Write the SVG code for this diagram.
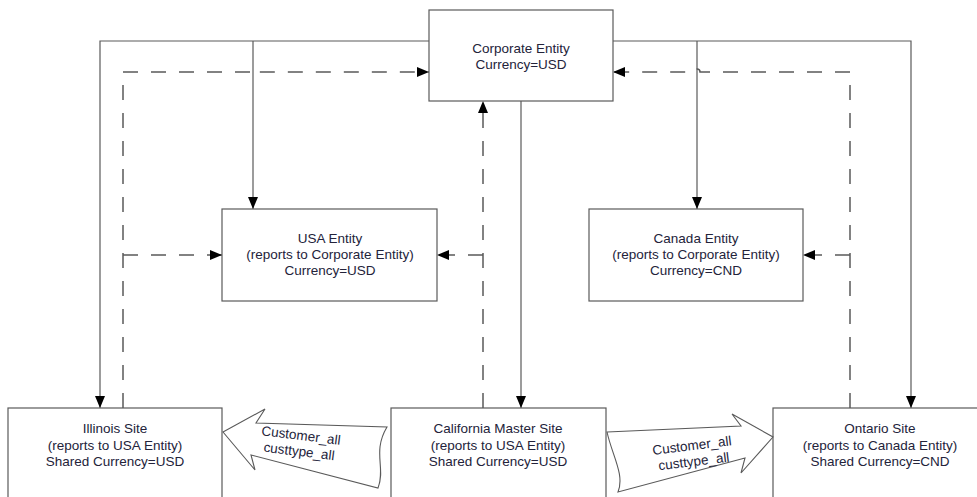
<svg xmlns="http://www.w3.org/2000/svg" width="977" height="497" viewBox="0 0 977 497">
<style>
  .box{fill:#fff;stroke:#5a5a5a;stroke-width:1.2}
  .t{font-family:"Liberation Sans",Arial,sans-serif;font-size:13.5px;fill:#23233a;text-anchor:middle}
  .s{fill:none;stroke:#5a5a5a;stroke-width:1.2}
  .d{fill:none;stroke:#5a5a5a;stroke-width:1.5;stroke-dasharray:15 13}
  .blk{fill:#fff;stroke:#5a5a5a;stroke-width:1.1;stroke-linejoin:miter}
</style>
<defs>
  <marker id="ah" viewBox="0 0 12 10" refX="12" refY="5" markerWidth="12" markerHeight="10" markerUnits="userSpaceOnUse" orient="auto">
    <path d="M0,0 L12,5 L0,10 z" fill="#000"/>
  </marker>
</defs>
<rect width="977" height="497" fill="#fff"/>
<g id="connectors">
  <path class="s" d="M429,41 H100 V408" marker-end="url(#ah)"/>
  <path class="s" d="M253,41 V209" marker-end="url(#ah)"/>
  <path class="s" d="M613,41 H911 V408" marker-end="url(#ah)"/>
  <path class="s" d="M697,41 V209" marker-end="url(#ah)"/>
  <path class="s" d="M521,101 V408" marker-end="url(#ah)"/>
  <path class="d" d="M123,408 V72 H250 A3,3 0 0 1 256,72 H429" marker-end="url(#ah)"/>
  <path class="d" d="M123,255 H222" marker-end="url(#ah)"/>
  <path class="d" d="M483,408 V101" marker-end="url(#ah)"/>
  <path class="d" d="M483,255 H437" marker-end="url(#ah)"/>
  <path class="d" d="M850,408 V72 H700 A3,3 0 0 0 694,72 H613" marker-end="url(#ah)"/>
  <path class="d" d="M850,255 H803" marker-end="url(#ah)"/>
</g>
<g id="corporate">
  <rect class="box" x="429" y="10" width="184" height="91"/>
  <text class="t" x="521" y="53">Corporate Entity</text>
  <text class="t" x="521" y="69">Currency=USD</text>
</g>
<g id="usa">
  <rect class="box" x="222" y="209" width="215" height="92"/>
  <text class="t" x="330" y="243">USA Entity</text>
  <text class="t" x="330" y="259">(reports to Corporate Entity)</text>
  <text class="t" x="330" y="275">Currency=USD</text>
</g>
<g id="canada">
  <rect class="box" x="589" y="209" width="214" height="92"/>
  <text class="t" x="696" y="243">Canada Entity</text>
  <text class="t" x="696" y="259">(reports to Corporate Entity)</text>
  <text class="t" x="696" y="275">Currency=CND</text>
</g>
<g id="illinois">
  <rect class="box" x="8" y="408" width="214" height="100"/>
  <text class="t" x="115" y="433">Illinois Site</text>
  <text class="t" x="115" y="449.5">(reports to USA Entity)</text>
  <text class="t" x="115" y="466">Shared Currency=USD</text>
</g>
<g id="california">
  <rect class="box" x="391" y="408" width="215" height="100"/>
  <text class="t" x="498" y="433">California Master Site</text>
  <text class="t" x="498" y="449.5">(reports to USA Entity)</text>
  <text class="t" x="498" y="466">Shared Currency=USD</text>
</g>
<g id="ontario">
  <rect class="box" x="773" y="408" width="215" height="100"/>
  <text class="t" x="880" y="433">Ontario Site</text>
  <text class="t" x="880" y="449.5">(reports to Canada Entity)</text>
  <text class="t" x="880" y="466">Shared Currency=CND</text>
</g>
<g id="flow-left">
  <path class="blk" d="M223,432 L265,409 L256,423 L387,427 C372,452 386,468 378,488 L251,455 L255,470 Z"/>
  <g transform="rotate(7 300 444)">
    <text class="t" x="300" y="440">Customer_all</text>
    <text class="t" x="300" y="456">custtype_all</text>
  </g>
</g>
<g id="flow-right">
  <path class="blk" d="M607,432 L741,426 L732,414 L773,437 L741,473 L745,458 L618,492 C625,475 612,455 607,432 Z"/>
  <g transform="rotate(-7 693 454)">
    <text class="t" x="693" y="450">Customer_all</text>
    <text class="t" x="693" y="466">custtype_all</text>
  </g>
</g>
</svg>
